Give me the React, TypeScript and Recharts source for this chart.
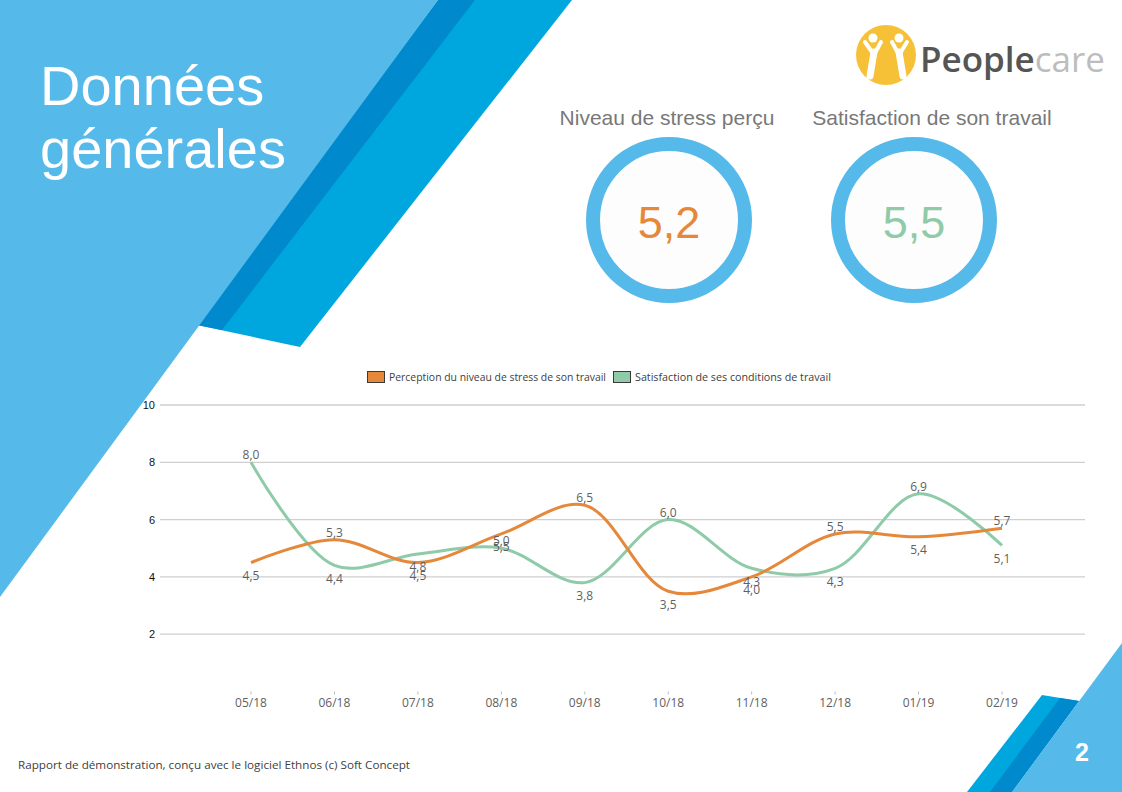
import React from 'react';
import { LineChart, Line, XAxis, YAxis, CartesianGrid } from 'recharts';

const months = ['05/18', '06/18', '07/18', '08/18', '09/18', '10/18', '11/18', '12/18', '01/19', '02/19'];
const stress = [4.5, 5.3, 4.5, 5.5, 6.5, 3.5, 4.0, 5.5, 5.4, 5.7];
const satisfaction = [8.0, 4.4, 4.8, 5.0, 3.8, 6.0, 4.3, 4.3, 6.9, 5.1];
const yTicks = [2, 4, 6, 8, 10];
const seriesNames = ['Perception du niveau de stress de son travail', 'Satisfaction de ses conditions de travail'];
const kpiTitles = ['Niveau de stress perçu', 'Satisfaction de son travail'];
const kpiValues = [5.2, 5.5];

const ORANGE = '#E5883A';
const GREEN = '#8FCBA9';
const LIGHT = '#55B9EA';
const MID = '#00A7DE';
const DARK = '#0089CC';

const data = months.map((m, i) => ({ month: m, stress: stress[i], satisfaction: satisfaction[i] }));

const fmt = (v: number) => v.toFixed(1).replace('.', ',');

// Centripetal Catmull-Rom curve (alpha = 0.5), same maths as d3's curveCatmullRom
const EPS = 1e-12;
class CatmullRomCurve {
  _context: any; _alpha: number; _line: any; _point = 0;
  _x0 = NaN; _x1 = NaN; _x2 = NaN; _y0 = NaN; _y1 = NaN; _y2 = NaN;
  _l01_a = 0; _l12_a = 0; _l23_a = 0; _l01_2a = 0; _l12_2a = 0; _l23_2a = 0;
  constructor(context: any, alpha: number) { this._context = context; this._alpha = alpha; }
  areaStart() { this._line = 0; }
  areaEnd() { this._line = NaN; }
  lineStart() {
    this._x0 = this._x1 = this._x2 = this._y0 = this._y1 = this._y2 = NaN;
    this._l01_a = this._l12_a = this._l23_a = this._l01_2a = this._l12_2a = this._l23_2a = this._point = 0;
  }
  lineEnd() {
    switch (this._point) {
      case 2: this._context.lineTo(this._x2, this._y2); break;
      case 3: this.point(this._x2, this._y2); break;
    }
    if (this._line || (this._line !== 0 && this._point === 1)) this._context.closePath();
    this._line = 1 - this._line;
  }
  bez(x: number, y: number) {
    let x1 = this._x1, y1 = this._y1, x2 = this._x2, y2 = this._y2;
    if (this._l01_a > EPS) {
      const a = 2 * this._l01_2a + 3 * this._l01_a * this._l12_a + this._l12_2a;
      const n = 3 * this._l01_a * (this._l01_a + this._l12_a);
      x1 = (x1 * a - this._x0 * this._l12_2a + this._x2 * this._l01_2a) / n;
      y1 = (y1 * a - this._y0 * this._l12_2a + this._y2 * this._l01_2a) / n;
    }
    if (this._l23_a > EPS) {
      const b = 2 * this._l23_2a + 3 * this._l23_a * this._l12_a + this._l12_2a;
      const m = 3 * this._l23_a * (this._l23_a + this._l12_a);
      x2 = (x2 * b + this._x1 * this._l23_2a - x * this._l12_2a) / m;
      y2 = (y2 * b + this._y1 * this._l23_2a - y * this._l12_2a) / m;
    }
    this._context.bezierCurveTo(x1, y1, x2, y2, this._x2, this._y2);
  }
  point(x: number, y: number) {
    x = +x; y = +y;
    if (this._point) {
      const x23 = this._x2 - x, y23 = this._y2 - y;
      this._l23_2a = Math.pow(x23 * x23 + y23 * y23, this._alpha);
      this._l23_a = Math.sqrt(this._l23_2a);
    }
    switch (this._point) {
      case 0: this._point = 1; this._line ? this._context.lineTo(x, y) : this._context.moveTo(x, y); break;
      case 1: this._point = 2; break;
      case 2: this._point = 3; this.bez(x, y); break;
      default: this.bez(x, y); break;
    }
    this._l01_a = this._l12_a; this._l12_a = this._l23_a;
    this._l01_2a = this._l12_2a; this._l12_2a = this._l23_2a;
    this._x0 = this._x1; this._x1 = this._x2; this._x2 = x;
    this._y0 = this._y1; this._y1 = this._y2; this._y2 = y;
  }
}
const smoothCurve: any = (context: any) => new CatmullRomCurve(context, 0.5);

const isPeak = (arr: number[], i: number) =>
  (i === 0 || arr[i] >= arr[i - 1]) && (i === arr.length - 1 || arr[i] >= arr[i + 1]);

const makeLabel = (arr: number[]) => (props: any) => {
  const { x, y, index, value } = props;
  if (x == null || y == null) return null;
  const above = isPeak(arr, index);
  return (
    <text
      x={x}
      y={above ? y - 3 : y + 17.5}
      textAnchor="middle"
      fontSize={12}
      fontFamily="'Open Sans', sans-serif"
      fill="#5f5f5f"
    >
      {fmt(Number(value))}
    </text>
  );
};

function Background() {
  return (
    <svg width={1122} height={792} style={{ position: 'absolute', left: 0, top: 0 }}>
      {/* top-left shapes */}
      <polygon points="438,0 572,0 300,347 197,325" fill={MID} />
      <polygon points="438,0 475,0 222,330 197,325" fill={DARK} />
      <polygon points="0,0 438,0 0,597" fill={LIGHT} />
      <text x={40} y={105} fontSize={56} fill="#fff" fontFamily="'Liberation Sans', Arial, sans-serif">Données</text>
      <text x={40} y={168} fontSize={56} fill="#fff" fontFamily="'Liberation Sans', Arial, sans-serif">générales</text>

      {/* bottom-right shapes */}
      <polygon points="1042,695 1079,701 1012,792 967,792" fill={MID} />
      <polygon points="1060,698 1079,701 1012,792 990,792" fill={DARK} />
      <polygon points="1122,643 1122,792 1012,792" fill={LIGHT} />
      <text x={1082} y={761} fontSize={25} fontWeight="bold" fill="#fff" textAnchor="middle" fontFamily="'Liberation Sans', Arial, sans-serif">2</text>

      {/* logo */}
      <circle cx={886} cy={55} r={30} fill="#F6C137" />
      <g stroke="#fff" strokeLinecap="round" fill="none">
        <circle cx={873} cy={38} r={4.5} fill="#fff" stroke="none" />
        <path d="M865,42 L874,55 L881,42" strokeWidth={4} />
        <path d="M874,52 L870,76" strokeWidth={7} />
        <circle cx={899} cy={38} r={4.5} fill="#fff" stroke="none" />
        <path d="M892,42 L899,55 L907,42" strokeWidth={4} />
        <path d="M899,52 L903,76" strokeWidth={7} />
      </g>
      <text x={920} y={72} fontSize={35} fontFamily="'Open Sans', sans-serif">
        <tspan fill="#555555" fontWeight={600}>People</tspan>
        <tspan fill="#bdbdbd">care</tspan>
      </text>

      {/* KPI rings */}
      {[669, 914].map((cx, i) => (
        <g key={i}>
          <text x={i === 0 ? 667 : 932} y={125} fontSize={21} fill="#787878" textAnchor="middle" fontFamily="'Liberation Sans', Arial, sans-serif">
            {kpiTitles[i]}
          </text>
          <circle cx={cx} cy={220} r={76} fill="#fdfdfd" stroke={LIGHT} strokeWidth={14} />
          <text x={cx} y={238} fontSize={45} fill={i === 0 ? ORANGE : GREEN} textAnchor="middle" fontFamily="'Liberation Sans', Arial, sans-serif">
            {fmt(kpiValues[i])}
          </text>
        </g>
      ))}

      {/* legend */}
      <rect x={367.5} y={371.5} width={17} height={11} fill={ORANGE} stroke="#3a3a3a" strokeWidth={1} />
      <text x={389} y={381} fontSize={10} fill="#404040" textLength={217} lengthAdjust="spacingAndGlyphs" fontFamily="'Open Sans', sans-serif">
        {seriesNames[0]}
      </text>
      <rect x={613.5} y={371.5} width={17} height={11} fill={GREEN} stroke="#3a3a3a" strokeWidth={1} />
      <text x={635} y={381} fontSize={10} fill="#404040" textLength={196} lengthAdjust="spacingAndGlyphs" fontFamily="'Open Sans', sans-serif">
        {seriesNames[1]}
      </text>

      {/* footer */}
      <text x={18} y={769} fontSize={11} fill="#404040" textLength={392} lengthAdjust="spacingAndGlyphs" fontFamily="'Open Sans', sans-serif">
        Rapport de démonstration, conçu avec le logiciel Ethnos (c) Soft Concept
      </text>
    </svg>
  );
}

export default function App() {
  return (
    <div style={{ position: 'absolute', left: 0, top: 0, width: 1122, height: 792, background: '#fff', overflow: 'hidden' }}>
      <Background />
      <div style={{ position: 'absolute', left: 0, top: 360 }}>
        <LineChart width={1122} height={370} data={data} margin={{ top: 45, right: 37, bottom: 8.5, left: 100 }}>
          <CartesianGrid vertical={false} horizontalValues={yTicks} stroke="#cfcfcf" strokeWidth={1.3} />
          <XAxis
            dataKey="month"
            padding={{ left: 91, right: 83 }}
            axisLine={false}
            tickLine={{ stroke: '#bbbbbb' }}
            tickSize={3}
            tickMargin={4}
            height={30}
            interval={0}
            tick={{ fontSize: 12, fill: '#5f5f5f', fontFamily: "'Open Sans', sans-serif" }}
          />
          <YAxis
            domain={[0, 10]}
            ticks={yTicks}
            axisLine={false}
            tickLine={false}
            tickSize={5}
            tickMargin={0}
            width={60}
            tick={{ fontSize: 11, fill: '#111', fontFamily: "'Liberation Sans', Arial, sans-serif" }}
          />
          <Line
            type={smoothCurve}
            dataKey="satisfaction"
            stroke={GREEN}
            strokeWidth={3}
            dot={false}
            activeDot={false}
            isAnimationActive={false}
            label={makeLabel(satisfaction)}
          />
          <Line
            type={smoothCurve}
            dataKey="stress"
            stroke={ORANGE}
            strokeWidth={3}
            dot={false}
            activeDot={false}
            isAnimationActive={false}
            label={makeLabel(stress)}
          />
        </LineChart>
      </div>
    </div>
  );
}
